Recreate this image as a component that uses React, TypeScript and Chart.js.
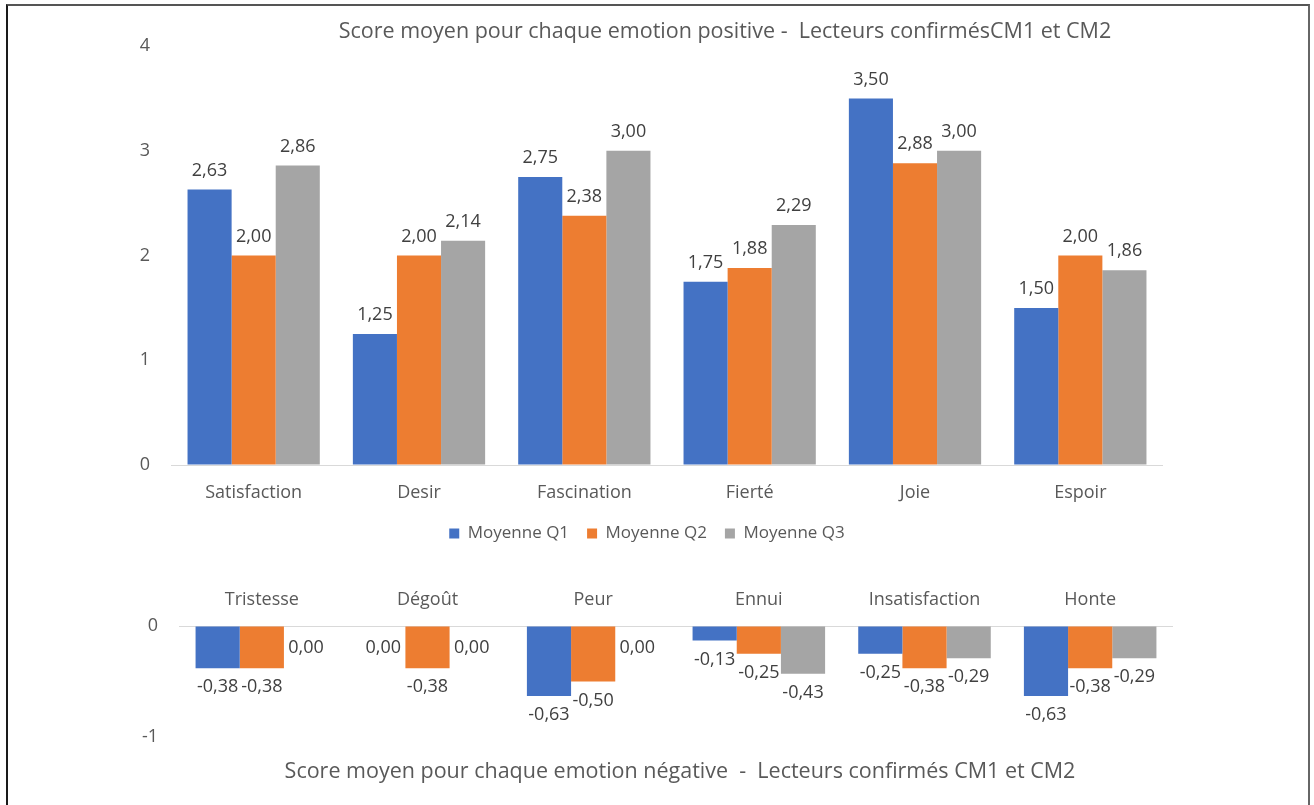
import React, { useEffect, useRef } from 'react';
import { Chart, registerables } from 'chart.js';

Chart.register(...registerables);

const seriesNames = ['Moyenne Q1', 'Moyenne Q2', 'Moyenne Q3'];
const seriesColors = ['#4472C4', '#ED7D31', '#A5A5A5'];

const posCategories = ['Satisfaction', 'Desir', 'Fascination', 'Fierté', 'Joie', 'Espoir'];
const posQ1 = [2.63, 1.25, 2.75, 1.75, 3.5, 1.5];
const posQ2 = [2.0, 2.0, 2.38, 1.88, 2.88, 2.0];
const posQ3 = [2.86, 2.14, 3.0, 2.29, 3.0, 1.86];
const posTicks = [0, 1, 2, 3, 4];

const negCategories = ['Tristesse', 'Dégoût', 'Peur', 'Ennui', 'Insatisfaction', 'Honte'];
const negQ1 = [-0.38, 0.0, -0.63, -0.13, -0.25, -0.63];
const negQ2 = [-0.38, -0.38, -0.5, -0.25, -0.38, -0.38];
const negQ3 = [0.0, 0.0, 0.0, -0.43, -0.29, -0.29];
const negTicks = [-1, 0];

const posTitle = 'Score moyen pour chaque emotion positive -  Lecteurs confirmésCM1 et CM2';
const negTitle = 'Score moyen pour chaque emotion négative  -  Lecteurs confirmés CM1 et CM2';

const FONT = '"Open Sans"';
const TXT = '#595959';
const LBL = '#404040';
const FS = 18;
const LEG_FS = 17;

const fmt = (v: number) => v.toFixed(2).replace('.', ',');

const valueLabels = {
  id: 'valueLabels',
  afterDatasetsDraw(chart: any) {
    const ctx = chart.ctx;
    ctx.save();
    ctx.font = `${FS}px ${FONT}`;
    ctx.fillStyle = LBL;
    ctx.textAlign = 'center';
    ctx.textBaseline = 'middle';
    chart.data.datasets.forEach((ds: any, di: number) => {
      const meta = chart.getDatasetMeta(di);
      meta.data.forEach((bar: any, i: number) => {
        const v = ds.data[i] as number;
        let ly;
        if (v > 0) ly = bar.y - 19;
        else if (v < 0) ly = bar.y + 19;
        else ly = bar.y + 22;
        ctx.fillText(fmt(v), bar.x, ly);
      });
    });
    ctx.restore();
  },
};

function makeDatasets(a: number[], b: number[], c: number[]) {
  return [a, b, c].map((d, i) => ({
    label: seriesNames[i],
    data: d,
    backgroundColor: seriesColors[i],
    borderWidth: 0,
    barPercentage: 1,
    categoryPercentage: 0.8,
  }));
}

function zeroGrid(ctx: any) {
  return ctx.tick && ctx.tick.value === 0 ? '#d9d9d9' : 'rgba(0,0,0,0)';
}

export default function App() {
  const topRef = useRef<HTMLCanvasElement>(null);
  const botRef = useRef<HTMLCanvasElement>(null);

  useEffect(() => {
    const top = new Chart(topRef.current!, {
      type: 'bar',
      data: { labels: posCategories, datasets: makeDatasets(posQ1, posQ2, posQ3) },
      plugins: [valueLabels],
      options: {
        animation: false,
        responsive: false,
        layout: { padding: { left: 131, right: 151, top: 46, bottom: 0 } },
        plugins: {
          title: { display: false },
          tooltip: { enabled: false },
          legend: {
            position: 'bottom',
            labels: {
              boxWidth: 10,
              boxHeight: 10,
              padding: 18,
              color: TXT,
              font: { family: FONT, size: LEG_FS },
            },
          },
        },
        scales: {
          x: {
            grid: { display: false, drawTicks: false },
            border: { display: false },
            ticks: { color: TXT, font: { family: FONT, size: FS }, padding: 17 },
            afterFit: (s: any) => { s.height = 42; },
          },
          y: {
            min: 0,
            max: 4,
            afterBuildTicks: (s: any) => { s.ticks = posTicks.map((v) => ({ value: v })); },
            grid: { color: zeroGrid, drawTicks: false, lineWidth: 1 },
            border: { display: false },
            ticks: { color: TXT, font: { family: FONT, size: FS }, padding: 21 },
            afterFit: (s: any) => { s.width = 40; },
          },
        },
      },
    } as any);

    const bot = new Chart(botRef.current!, {
      type: 'bar',
      data: { labels: negCategories, datasets: makeDatasets(negQ1, negQ2, negQ3) },
      plugins: [valueLabels],
      options: {
        animation: false,
        responsive: false,
        layout: { padding: { left: 0, right: 141, top: 0, bottom: 68 } },
        plugins: {
          title: { display: false },
          tooltip: { enabled: false },
          legend: { display: false },
        },
        scales: {
          x: {
            position: 'top',
            grid: { display: false, drawTicks: false },
            border: { display: false },
            ticks: { color: TXT, font: { family: FONT, size: FS }, padding: 15 },
            afterFit: (s: any) => { s.height = 66; },
          },
          y: {
            min: -1,
            max: 0,
            afterBuildTicks: (s: any) => { s.ticks = negTicks.map((v) => ({ value: v })); },
            grid: { color: zeroGrid, drawTicks: false, lineWidth: 1 },
            border: { display: false },
            ticks: { color: TXT, font: { family: FONT, size: FS }, padding: 21 },
            afterFit: (s: any) => { s.width = 179; },
          },
        },
      },
    } as any);

    return () => {
      top.destroy();
      bot.destroy();
    };
  }, []);

  const titleStyle: React.CSSProperties = {
    position: 'absolute',
    transform: 'translate(-50%, -50%)',
    whiteSpace: 'pre',
    fontFamily: FONT,
    fontSize: 21.5,
    color: TXT,
    lineHeight: 1,
  };

  return (
    <div
      style={{
        position: 'absolute',
        left: 0,
        top: 0,
        width: 1314,
        height: 805,
        overflow: 'hidden',
        background: '#fff',
      }}
    >
      <div
        style={{
          position: 'absolute',
          left: 6,
          top: 4,
          width: 1300,
          height: 830,
          borderLeft: '2px solid #1a1a1a',
          borderTop: '2px solid #555',
          borderRight: '2px solid #666',
        }}
      />
      <canvas
        ref={topRef}
        width={1314}
        height={552}
        style={{ position: 'absolute', left: 0, top: 0, width: 1314, height: 552 }}
      />
      <canvas
        ref={botRef}
        width={1314}
        height={245}
        style={{ position: 'absolute', left: 0, top: 560, width: 1314, height: 245 }}
      />
      <div style={{ ...titleStyle, left: 725, top: 30 }}>{posTitle}</div>
      <div style={{ ...titleStyle, left: 680, top: 770 }}>{negTitle}</div>
    </div>
  );
}
